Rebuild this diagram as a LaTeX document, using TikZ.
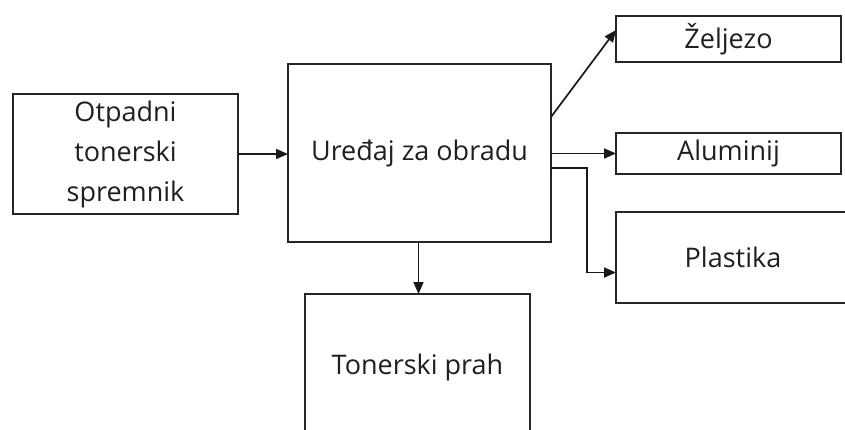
\documentclass[tikz,border=0pt]{standalone}
\usepackage{fontspec}
\setmainfont{Open Sans}
\usetikzlibrary{arrows.meta}
\begin{document}
\begin{tikzpicture}[x=1pt,y=-1pt,
  box/.style={draw=black!85,line width=1.9pt,rectangle,inner sep=0pt,outer sep=0pt,
    font=\fontsize{27}{40}\selectfont,text=black!88,align=center},
  conn/.style={draw=black!90,line width=1.7pt,-{Triangle[length=12pt,width=10pt]}}]
\useasboundingbox (0,0) rectangle (845,429);
\clip (0,0) rectangle (845,429);
\node[box,minimum width=225pt,minimum height=120pt] (L) at (125.5,154) {Otpadni\\tonerski\\spremnik};
\node[box,minimum width=263pt,minimum height=178pt] (C) at (419.5,153) {Uređaj za obradu};
\node[box,minimum width=225pt,minimum height=46pt] (Z) at (728.5,39) {Željezo};
\node[box,minimum width=225pt,minimum height=41pt] (A) at (728.5,153.5) {Aluminij};
\node[box,minimum width=234pt,minimum height=91pt] (P) at (733,257.5) {Plastika};
\node[box,minimum width=225pt,minimum height=146pt] (T) at (417.5,367) {Tonerski prah};
\draw[conn] (L.east) -- (L.east -| C.west);
\draw[conn] ([yshift=-53pt]C.north east) -- ([yshift=9pt]Z.west);
\draw[conn] (C.east |- A.west) -- (A.west);
\draw[conn] ([yshift=-15pt]C.east) -- ++(36,0) |- ([yshift=-15pt]P.west);
\draw[conn] ([xshift=-1pt]C.south) -- ([xshift=-1pt]C.south |- T.north);
\end{tikzpicture}
\end{document}
